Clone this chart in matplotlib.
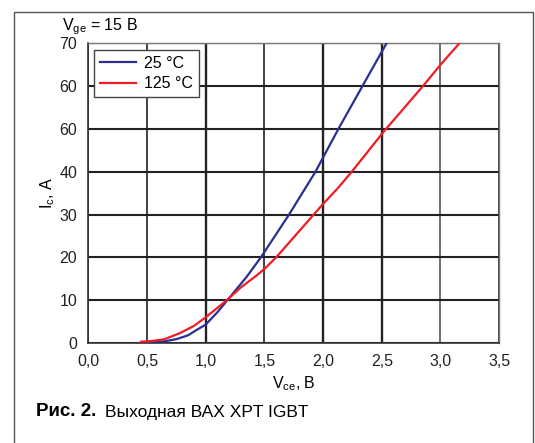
import matplotlib
matplotlib.use('Agg')
import matplotlib.pyplot as plt
from matplotlib.patches import Rectangle

plt.rcParams['font.family'] = ['Liberation Sans', 'DejaVu Sans']
plt.rcParams['mathtext.default'] = 'regular'

# Data
vce_25 = [0.47, 0.55, 0.65, 0.75, 0.85, 0.92, 1.0, 1.1, 1.2, 1.35, 1.47, 1.71, 1.935, 2.13, 2.335, 2.54]
ic_25 = [0.1, 0.15, 0.4, 0.9, 1.8, 3.0, 4.3, 7.2, 10.5, 15.5, 20, 30, 40, 50, 60, 70]

vce_125 = [0.45, 0.55, 0.65, 0.78, 0.9, 1.0, 1.18, 1.3, 1.43, 1.5, 1.6, 1.92, 2.0, 2.12, 2.244, 2.52, 2.85, 3.0, 3.16]
ic_125 = [0.3, 0.5, 0.9, 2.3, 4.0, 6.0, 10, 13, 15.7, 17.3, 20, 30, 32.5, 36, 40, 49.5, 60, 65, 70]

x_ticks = [0.0, 0.5, 1.0, 1.5, 2.0, 2.5, 3.0, 3.5]
x_labels = ['0,0', '0,5', '1,0', '1,5', '2,0', '2,5', '3,0', '3,5']
y_ticks = [0, 10, 20, 30, 40, 50, 60, 70]
y_labels = ['0', '10', '20', '30', '40', '60', '60', '70']  # as printed in the original

fig = plt.figure(figsize=(5.35, 4.43), dpi=100)
ax = fig.add_axes([0.165, 0.2257, 0.768, 0.6763])

# outer frame of the figure
fig.patches.append(Rectangle((0.026, -0.1), 0.97, 1.073, transform=fig.transFigure,
                             fill=False, edgecolor='#555555', linewidth=1.0))

ax.plot(vce_25, ic_25, color='#2b2f94', linewidth=1.6, label='25 °C', zorder=3)
ax.plot(vce_125, ic_125, color='#ee1c25', linewidth=1.6, label='125 °C', zorder=3)

ax.set_xlim(0, 3.5)
ax.set_ylim(0, 70)
ax.set_xticks(x_ticks)
ax.set_xticklabels(x_labels)
ax.set_yticks(y_ticks)
ax.set_yticklabels(y_labels)
ax.tick_params(length=0, labelsize=11.5, pad=8, colors='#222222')

ax.grid(True, color='#222222', linewidth=1.2, zorder=1)
for pos, gl in zip(x_ticks, ax.get_xgridlines()):
    if pos in (1.0, 2.0, 2.5):
        gl.set_linewidth(1.7)
    if pos == 3.0:
        gl.set_color('#555555')
for gl in ax.get_ygridlines():
    gl.set_linewidth(1.5)
ax.set_axisbelow(True)

for side in ['left', 'bottom']:
    ax.spines[side].set_color('#333333')
    ax.spines[side].set_linewidth(1.2)
for side in ['top', 'right']:
    ax.spines[side].set_color('#777777')
    ax.spines[side].set_linewidth(1.0)

ax.set_xlabel('V$_{ce}$, В', fontsize=11.5, labelpad=4)
ax.set_ylabel('I$_{c}$, A', fontsize=11.5, labelpad=1.5)

leg = ax.legend(loc='upper left', bbox_to_anchor=(0.014, 0.978), fontsize=11.5,
                fancybox=False, framealpha=1, edgecolor='#444444',
                handlelength=2.3, handletextpad=0.5, borderpad=0.35,
                labelspacing=0.35, borderaxespad=0)
leg.get_frame().set_linewidth(1.0)

fig.text(100 / 535, 1 - 27 / 443, 'V$_{ge}$ = 15 В', fontsize=11.5, ha='center', va='center')

fig.text(36 / 535, 1 - 412 / 443, 'Рис. 2.', fontsize=13.5, fontweight='bold',
         ha='left', va='center')
fig.text(105 / 535, 1 - 412 / 443, 'Выходная ВАХ XPT IGBT', fontsize=12.5,
         ha='left', va='center')

fig.savefig('out.png', dpi=100)
